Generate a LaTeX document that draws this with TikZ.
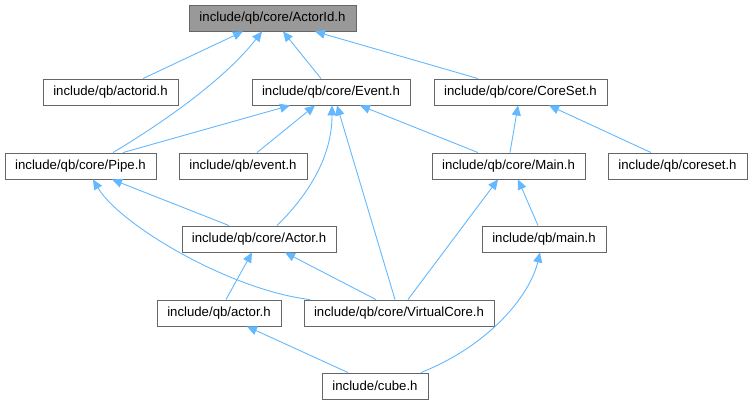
\documentclass[tikz,border=0pt]{standalone}
\usepackage{fontspec}
\setmainfont{Liberation Sans}
\usetikzlibrary{arrows.meta}
\definecolor{edgeblue}{HTML}{63B8FF}
\definecolor{boxline}{HTML}{666666}
\definecolor{rootfill}{HTML}{999999}
\tikzset{
  filebox/.style={draw=boxline, line width=0.9pt, fill=white, inner sep=0pt,
    minimum height=26pt, font=\fontsize{13.2}{15}\selectfont, text=black},
  rootbox/.style={filebox, fill=rootfill},
  dep/.style={draw=edgeblue, line width=0.9pt,
    -{Triangle[length=10pt,width=9pt,fill=edgeblue]}}
}
\begin{document}
\begin{tikzpicture}[x=1pt,y=-1pt]
\useasboundingbox (0,0) rectangle (752,405);
% nodes
\node[rootbox, minimum width=167pt] (actorid) at (272.5,18) {include/qb/core/ActorId.h};
\node[filebox, minimum width=135pt] (qbactorid) at (110.5,92) {include/qb/actorid.h};
\node[filebox, minimum width=158pt] (event) at (331,92) {include/qb/core/Event.h};
\node[filebox, minimum width=173pt] (coreset) at (520.5,92) {include/qb/core/CoreSet.h};
\node[filebox, minimum width=151pt] (pipe) at (80.5,166) {include/qb/core/Pipe.h};
\node[filebox, minimum width=128pt] (qbevent) at (243,166) {include/qb/event.h};
\node[filebox, minimum width=153pt] (main) at (508.5,166) {include/qb/core/Main.h};
\node[filebox, minimum width=139pt] (qbcoreset) at (677.5,166) {include/qb/coreset.h};
\node[filebox, minimum width=154pt] (actor) at (259,239) {include/qb/core/Actor.h};
\node[filebox, minimum width=124pt] (qbmain) at (544,239) {include/qb/main.h};
\node[filebox, minimum width=124pt] (qbactor) at (219,313) {include/qb/actor.h};
\node[filebox, minimum width=190pt] (vcore) at (399,313) {include/qb/core/VirtualCore.h};
\node[filebox, minimum width=106pt] (cube) at (375,386) {include/cube.h};
% edges
\draw[dep] ([xshift=32.5pt]qbactorid.north) -- ([xshift=-29.5pt]actorid.south);
\draw[dep] ([xshift=32.5pt]pipe.north) .. controls (164,122) and (225,79) .. ([xshift=-10.5pt]actorid.south);
\draw[dep] ([xshift=-10pt]event.north) -- ([xshift=10.5pt]actorid.south);
\draw[dep] ([xshift=-42.5pt]coreset.north) -- ([xshift=42.5pt]actorid.south);
\draw[dep] ([xshift=42.5pt]pipe.north) -- ([xshift=-41pt]event.south);
\draw[dep] ([xshift=14pt]qbevent.north) -- ([xshift=-16pt]event.south);
\draw[dep] ([xshift=18pt]actor.north) .. controls (305,198) and (332,160) .. ([xshift=1pt]event.south);
\draw[dep] ([xshift=-4pt]vcore.north) -- ([xshift=6pt]event.south);
\draw[dep] ([xshift=-30.5pt]main.north) -- ([xshift=29pt]event.south);
\draw[dep] ([xshift=1.5pt]main.north) -- ([xshift=-2.5pt]coreset.south);
\draw[dep] ([xshift=-26.5pt]qbcoreset.north) -- ([xshift=28.5pt]coreset.south);
\draw[dep] ([xshift=-30pt]actor.north) -- ([xshift=31.5pt]pipe.south);
\draw[dep] ([xshift=-89pt]vcore.north) .. controls (230,290) and (120,225) .. ([xshift=12.5pt]pipe.south);
\draw[dep] ([xshift=7pt]qbactor.north) -- ([xshift=-7pt]actor.south);
\draw[dep] ([xshift=-23pt]vcore.north) -- ([xshift=26pt]actor.south);
\draw[dep] ([xshift=9pt]vcore.north) -- ([xshift=-10.5pt]main.south);
\draw[dep] ([xshift=-6pt]qbmain.north) -- ([xshift=9.5pt]main.south);
\draw[dep] ([xshift=-27pt]cube.north) -- ([xshift=28pt]qbactor.south);
\draw[dep] ([xshift=46pt]cube.north) .. controls (490,345) and (530,295) .. ([xshift=-4pt]qbmain.south);
\end{tikzpicture}
\end{document}
